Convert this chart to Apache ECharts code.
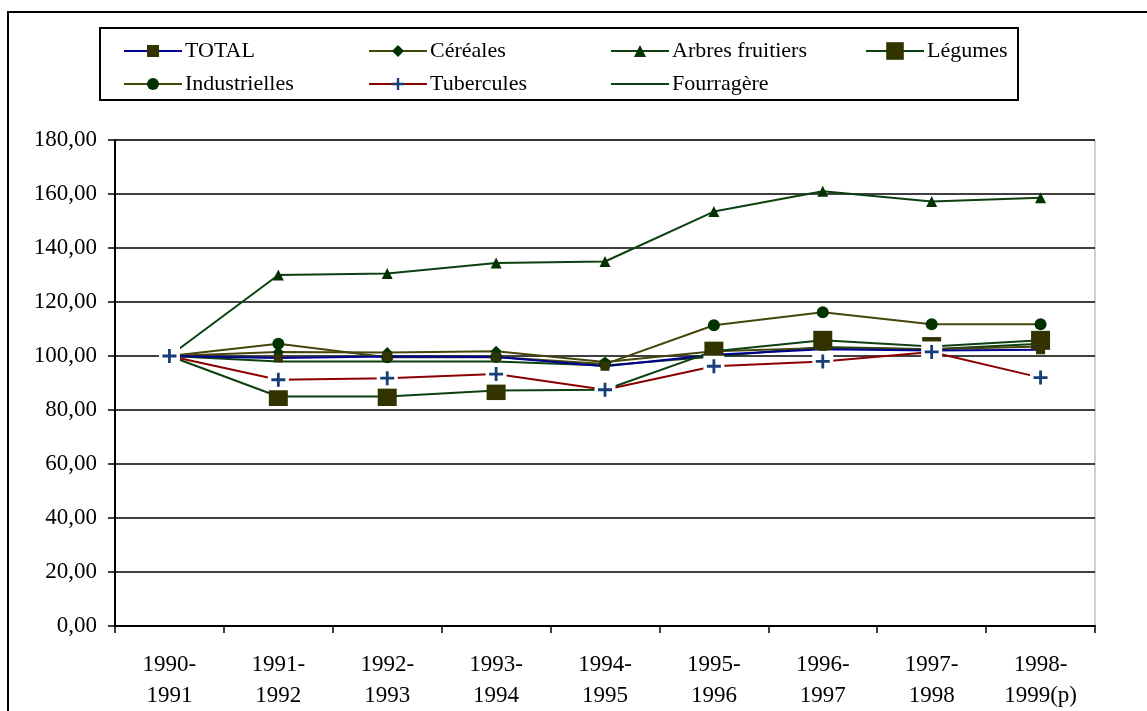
<!DOCTYPE html>
<html><head><meta charset="utf-8">
<script src="https://cdn.jsdelivr.net/npm/echarts@6/dist/echarts.min.js"></script>
<style>html,body{margin:0;padding:0;background:#fff}#c{width:1147px;height:711px}</style>
</head><body><div id="c"></div>
<script>
const categories = ['1990-\n1991','1991-\n1992','1992-\n1993','1993-\n1994','1994-\n1995','1995-\n1996','1996-\n1997','1997-\n1998','1998-\n1999(p)'];
const total        = [100, 99.3, 99.8, 99.6, 96.2, 100.5, 102.5, 102.0, 102.3];
const cereales     = [100, 101.5, 101.3, 101.8, 97.8, 101.8, 103.0, 102.5, 103.5];
const arbres       = [100, 130.0, 130.6, 134.4, 135.0, 153.5, 161.0, 157.2, 158.6];
const legumes      = [100, 85.0, 85.0, 87.2, 87.5, 101.8, 105.8, 103.5, 105.8];
const industrielles= [100, 104.5, 99.5, 99.6, 97.0, 111.4, 116.2, 111.8, 111.8];
const tubercules   = [100, 91.2, 91.8, 93.3, 87.5, 96.2, 98.0, 101.5, 92.0];
const fourragere   = [100, 98.0, 98.0, 98.0, 96.5, 99.8, 103.3, 102.5, 104.5];
const yTicks = {min: 0, max: 180, interval: 20};

const FONT = '"Liberation Serif","Times New Roman",serif';
const PLUS = 'path://M4,0H6V4H10V6H6V10H4V6H0V4H4Z';

// first point has no marker (hidden behind Tubercules' white box in the original)
function pts(arr) { return arr.map((v, i) => i === 0 ? {value: v, symbol: 'none'} : v); }

function lineSeries(name, data, lineColor, symbol, size, markColor) {
  return {
    name, type: 'line', data: pts(data), z: 2,
    symbol: symbol, symbolSize: size, showSymbol: symbol !== 'none',
    lineStyle: {color: lineColor, width: 2},
    itemStyle: {color: markColor, borderWidth: 0, opacity: 1},
    emphasis: {disabled: true}, animation: false
  };
}

const series = [
  lineSeries('Fourragère', fourragere, '#0d4010', 'none', 0, '#0d4010'),
  lineSeries('Tubercules', tubercules, '#8b0000', PLUS, 14, '#163f78'),
  lineSeries('Industrielles', industrielles, '#45450c', 'circle', 12, '#003300'),
  lineSeries('Céréales', cereales, '#45450c', 'diamond', 11, '#003300'),
  lineSeries('TOTAL', total, '#000090', 'rect', 9, '#333300'),
  lineSeries('Arbres fruitiers', arbres, '#0d4010', 'triangle', 11, '#003300'),
  lineSeries('Légumes', legumes, '#0d4010', 'rect', 19, '#333300'),
  {name: 'tub-bg', type: 'scatter', data: tubercules, symbol: 'rect', symbolSize: 21, z: 5,
   itemStyle: {color: '#ffffff', opacity: 1}, emphasis: {disabled: true}, animation: false},
  {name: 'tub-fg', type: 'scatter', data: tubercules, symbol: PLUS, symbolSize: 14, z: 6,
   itemStyle: {color: '#163f78', opacity: 1}, emphasis: {disabled: true}, animation: false}
];

function leg(name, left, top, h, hideSym) {
  const item = hideSym ? {name, itemStyle: {opacity: 0}} : {name};
  return {data: [item], left, top, orient: 'horizontal', itemWidth: 58, itemHeight: h || 15,
    itemGap: 0, selectedMode: false,
    textStyle: {fontFamily: FONT, fontSize: 22, color: '#000', padding: [0,0,0,-2]}};
}

const option = {
  backgroundColor: '#fff',
  animation: false,
  textStyle: {fontFamily: FONT},
  graphic: [
    {type: 'rect', shape: {x: 8, y: 12, width: 1160, height: 720}, style: {fill: 'none', stroke: '#000', lineWidth: 2}, z: -1},
    {type: 'rect', shape: {x: 100, y: 28, width: 918, height: 72}, style: {fill: '#fff', stroke: '#000', lineWidth: 2}, z: -1}
  ],
  legend: [
    leg('TOTAL', 118, 35),
    leg('Céréales', 363, 35),
    leg('Arbres fruitiers', 605, 35),
    leg('Légumes', 860, 35, 22),
    leg('Industrielles', 118, 68),
    leg('Tubercules', 363, 68),
    leg('Fourragère', 605, 68, 15, true)
  ],
  grid: {left: 115, right: 52, top: 140, bottom: 81, show: true, borderColor: '#a0a0a0', borderWidth: 1},
  xAxis: {
    type: 'category', data: categories, boundaryGap: true,
    axisLine: {lineStyle: {color: '#000', width: 2}},
    axisTick: {show: true, inside: false, length: 7, lineStyle: {color: '#000', width: 1.5}},
    axisLabel: {fontFamily: FONT, fontSize: 23, color: '#000', margin: 23, lineHeight: 31, interval: 0}
  },
  yAxis: {
    type: 'value', min: yTicks.min, max: yTicks.max, interval: yTicks.interval,
    axisLine: {show: true, lineStyle: {color: '#000', width: 2}},
    axisTick: {show: true, inside: false, length: 7, lineStyle: {color: '#000', width: 1.5}},
    splitLine: {lineStyle: {color: '#000', width: 1.5}},
    axisLabel: {fontFamily: FONT, fontSize: 23, color: '#000', margin: 18,
      formatter: v => v.toFixed(2).replace('.', ',')}
  },
  series
};
const chart = echarts.init(document.getElementById('c'), null, {renderer: 'canvas'});
chart.setOption(option);
</script></body></html>
